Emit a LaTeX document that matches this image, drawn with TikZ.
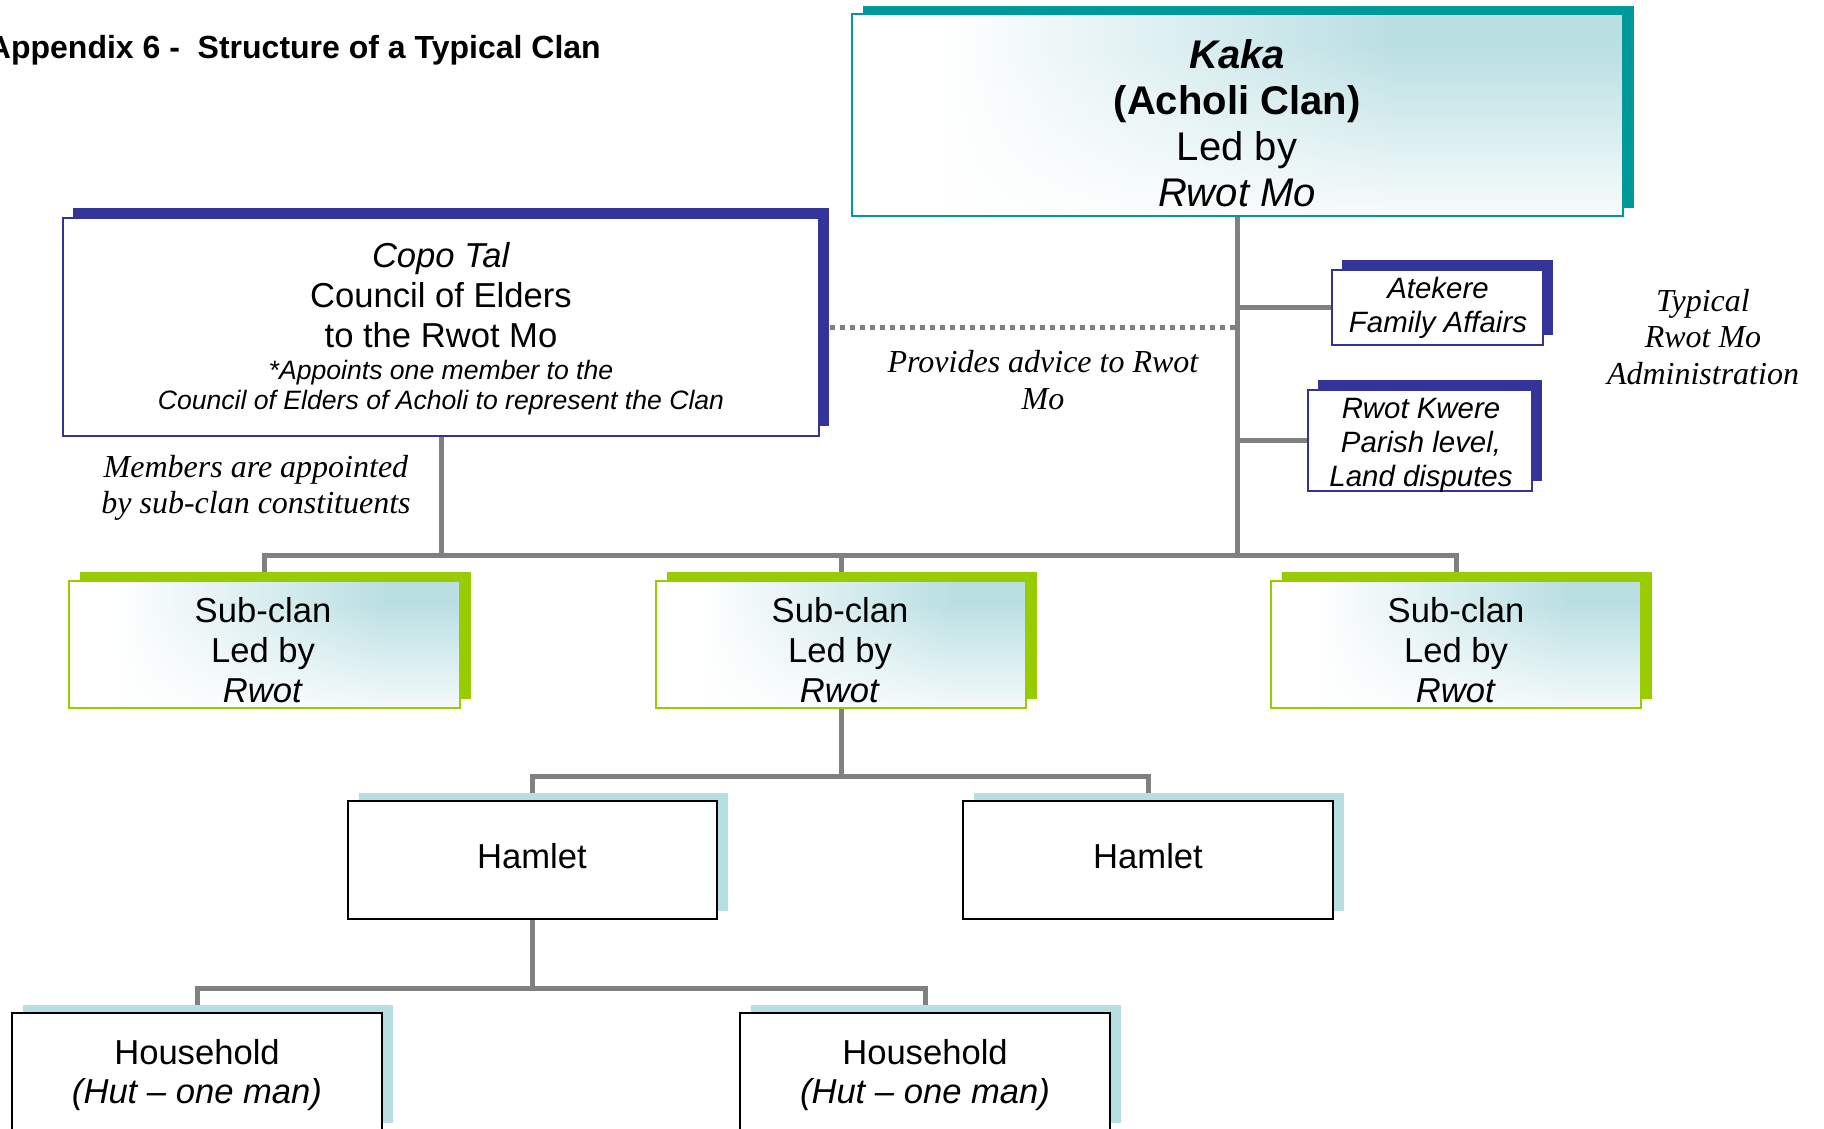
\documentclass[tikz,border=0pt]{standalone}
\usepackage{fontspec}
\setmainfont{Liberation Sans}
\newfontfamily\tnr{Liberation Serif}
\usetikzlibrary{shadows,fadings}
\definecolor{tealD}{RGB}{0,153,153}
\definecolor{tealL}{RGB}{186,223,227}
\definecolor{blueD}{RGB}{51,51,153}
\definecolor{greenY}{RGB}{153,204,0}
\definecolor{hamS}{RGB}{183,222,225}
\definecolor{connC}{RGB}{128,128,128}
\pgfdeclarelayer{bg}
\pgfsetlayers{bg,main}
\tikzset{
  gradfill/.style n args={4}{path picture={
    \fill[white] (path picture bounding box.south west) rectangle (path picture bounding box.north east);
    \shade[left color=white, right color=tealL]
      ([xshift=#1]path picture bounding box.south west) rectangle ([xshift=-#2]path picture bounding box.north east);
    \fill[tealL] ([xshift=-#2]path picture bounding box.south east) rectangle (path picture bounding box.north east);
    \fill[white, fill opacity=#4, path fading=north]
      (path picture bounding box.south west) rectangle ([yshift=-#3]path picture bounding box.north east);
  }}
}
\begin{document}
\begin{tikzpicture}[x=1pt,y=-1pt,
  box/.style={rectangle, inner sep=0pt, anchor=center},
  kakabox/.style={box, draw=tealD, line width=2pt, fill=white,
    general shadow={shadow xshift=11pt, shadow yshift=8pt, fill=tealD},
    gradfill={90pt}{230pt}{30pt}{0.9}},
  subbox/.style={box, draw=greenY, line width=2.5pt, fill=white,
    general shadow={shadow xshift=11pt, shadow yshift=9pt, fill=greenY},
    gradfill={45pt}{75pt}{22pt}{0.85}},
  bluebox/.style={box, draw=blueD, line width=1.5pt, fill=white,
    general shadow={shadow xshift=10pt, shadow yshift=10pt, fill=blueD}},
  hambox/.style={box, draw=black, line width=2pt, fill=white,
    general shadow={shadow xshift=11pt, shadow yshift=8pt, fill=hamS}},
  txt/.style={align=center, inner sep=0pt, anchor=center},
  bigfont/.style={font=\fontsize{34.6}{40}\selectfont},
  seriflbl/.style={txt, font=\tnr\itshape\fontsize{32}{36.5}\selectfont},
  connline/.style={draw=connC, line width=5pt, line join=miter},
  dotline/.style={draw=connC, line width=5pt, dash pattern=on 5pt off 5pt}
]
\useasboundingbox (0,0) rectangle (1824,1128);

% title
\node[anchor=base east, inner sep=0pt, font=\bfseries\fontsize{32}{38}\selectfont] (title) at (601,58) {Appendix 6 -\ \ Structure of a Typical Clan};

% Kaka
\node[kakabox, minimum width=771pt, minimum height=202pt] (kaka) at (1237.5,115) {};
\node[txt, font=\fontsize{40}{46}\selectfont] (kakaT) at (1237,123.5)
  {\textbf{\textit{Kaka}}\\\textbf{(Acholi Clan)}\\Led by\\\textit{Rwot Mo}};

% Copo Tal
\node[bluebox, minimum width=756pt, minimum height=218pt] (copo) at (441,327) {};
\node[txt, bigfont] (copoA) at (441,295) {\textit{Copo Tal}\\Council of Elders\\to the Rwot Mo};
\node[txt, font=\itshape\fontsize{26.6}{30}\selectfont] (copoB) at (441,388)
  {*Appoints one member to the\\Council of Elders of Acholi to represent the Clan};

% Atekere and Rwot Kwere
\node[bluebox, minimum width=211pt, minimum height=75pt] (atek) at (1437.5,307.5) {};
\node[txt, font=\itshape\fontsize{29.4}{34}\selectfont] (atekT) at (1438,308) {Atekere\\Family Affairs};
\node[bluebox, minimum width=224pt, minimum height=101pt] (rk) at (1420,440.5) {};
\node[txt, font=\itshape\fontsize{29.4}{34}\selectfont] (rkT) at (1421,445) {Rwot Kwere\\Parish level,\\Land disputes};

% serif labels
\node[seriflbl] (typ) at (1703,337) {Typical\\Rwot Mo\\Administration};
\node[seriflbl] (prov) at (1043,380) {Provides advice to Rwot\\Mo};
\node[seriflbl] (mem) at (256,488) {Members are appointed\\by sub-clan constituents};

% sub-clans
\node[subbox, minimum width=391pt, minimum height=127pt] (sub1) at (264.5,644.5) {};
\node[subbox, minimum width=370pt, minimum height=127pt] (sub2) at (841,644.5) {};
\node[subbox, minimum width=370pt, minimum height=127pt] (sub3) at (1456,644.5) {};
\node[txt, bigfont] (sub1T) at (263,650.5) {Sub-clan\\Led by\\\textit{Rwot}};
\node[txt, bigfont] (sub2T) at (840,650.5) {Sub-clan\\Led by\\\textit{Rwot}};
\node[txt, bigfont] (sub3T) at (1456,650.5) {Sub-clan\\Led by\\\textit{Rwot}};

% hamlets
\node[hambox, minimum width=369pt, minimum height=118pt] (ham1) at (532.5,860) {};
\node[hambox, minimum width=370pt, minimum height=118pt] (ham2) at (1148,860) {};
\node[txt, bigfont] (ham1T) at (532,856) {Hamlet};
\node[txt, bigfont] (ham2T) at (1148,856) {Hamlet};

% households
\node[hambox, minimum width=370pt, minimum height=118pt] (hh1) at (197,1072) {};
\node[hambox, minimum width=370pt, minimum height=118pt] (hh2) at (925,1072) {};
\node[txt, font=\fontsize{34.6}{39}\selectfont] (hh1T) at (197,1075) {Household\\\textit{(Hut – one man)}};
\node[txt, font=\fontsize{34.6}{39}\selectfont] (hh2T) at (925,1075) {Household\\\textit{(Hut – one man)}};

\begin{pgfonlayer}{bg}
  \fill[white] (0,0) rectangle (1824,1128);
  \coordinate (busY) at (0,555);
  \coordinate (hbusY) at (0,776);
  \coordinate (kbusY) at (0,988);
  \draw[connline] (kaka.south) -- (kaka.south |- busY);
  \draw[connline] (sub1.north) -- (sub1.north |- busY) -- (sub3.north |- busY) -- (sub3.north);
  \draw[connline] (copo.south) -- (copo.south |- busY);
  \draw[connline] (sub2.north) -- (sub2.north |- busY);
  \draw[connline] (kaka.south |- atek.west) -- (atek.west);
  \draw[connline] (kaka.south |- rk.west) -- (rk.west);
  \draw[dotline] (copo.east) -- ([xshift=-3pt]copo.east -| kaka.south);
  \draw[connline] (sub2.south) -- (sub2.south |- hbusY);
  \draw[connline] (ham1.north) -- (ham1.north |- hbusY) -- (ham2.north |- hbusY) -- (ham2.north);
  \draw[connline] (ham1.south) -- (ham1.south |- kbusY);
  \draw[connline] (hh1.north) -- (hh1.north |- kbusY) -- (hh2.north |- kbusY) -- (hh2.north);
\end{pgfonlayer}
\end{tikzpicture}
\end{document}
